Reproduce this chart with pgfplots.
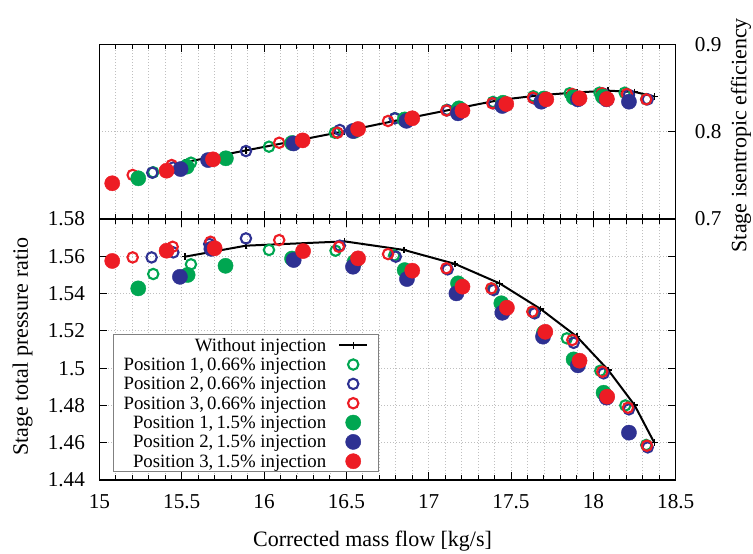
\documentclass[border=0pt]{standalone}
\usepackage{pgfplots}
\pgfplotsset{compat=1.18}
\usepackage{fontspec}
\setmainfont{Liberation Serif}
\definecolor{cG}{RGB}{0,166,81}
\definecolor{cB}{RGB}{46,49,146}
\definecolor{cR}{RGB}{237,28,36}
\pgfplotsset{
  common/.style={
    scale only axis, width=288.15pt, xmin=15, xmax=18.5,
    xtick={15,15.5,16,16.5,17,17.5,18,18.5}, minor x tick num=4,
    xmajorgrids, xminorgrids, ymajorgrids,
    major grid style={gray!50, line width=0.4pt, dash pattern=on 0.5pt off 1pt},
    minor grid style={gray!50, line width=0.4pt, dash pattern=on 0.5pt off 1pt},
    axis line style={line width=0.6pt},
    major tick length=4pt, minor tick length=2.5pt,
    every tick/.style={black, line width=0.5pt},
    tick label style={font=\fontsize{10.6}{12}\selectfont},
    label style={font=\fontsize{11}{13}\selectfont},
    /pgf/number format/assume math mode=true,
    xticklabel style={yshift=-3.5pt},
    legend image code/.code={\draw[mark repeat=2,mark phase=2,##1] plot coordinates {(0pt,0pt) (7pt,0pt) (14pt,0pt)};},
  },
  noinj/.style={black, line width=1pt, mark=+, mark size=1.7pt, mark options={line width=0.7pt}},
  openG/.style={only marks, mark=o, mark size=2.6pt, cG, mark options={line width=1.05pt}},
  openB/.style={only marks, mark=o, mark size=2.6pt, cB, mark options={line width=1.05pt}},
  openR/.style={only marks, mark=o, mark size=2.6pt, cR, mark options={line width=1.05pt}},
  fillG/.style={only marks, mark=*, mark size=3.8pt, cG, mark options={line width=0.2pt}},
  fillB/.style={only marks, mark=*, mark size=3.8pt, cB, mark options={line width=0.2pt}},
  fillR/.style={only marks, mark=*, mark size=3.8pt, cR, mark options={line width=0.2pt}},
}
\begin{document}
\begin{tikzpicture}
\useasboundingbox (-49.7pt,-36.5pt) rectangle (326.8pt,240pt);
% ---------------- top panel: efficiency ----------------
\begin{axis}[common, at={(0pt,130.5pt)}, anchor=south west, height=87.35pt,
  ymin=0.7, ymax=0.9, ytick={0.7,0.8,0.9},
  yticklabel pos=right, ytick pos=right, xticklabels={},
  yticklabel style={xshift=6.1pt},
  ylabel={Stage isentropic efficiency},
  ylabel style={at={(axis description cs:1.1225,0.48)}, anchor=base},
]
\addplot[noinj] coordinates {(15.52,0.7650) (15.89,0.7785) (16.49,0.8005) (16.85,0.8145) (17.16,0.8262) (17.43,0.8362) (17.68,0.8418) (17.90,0.8449) (18.09,0.8469) (18.25,0.8455) (18.37,0.8402)};
\addplot[openG] coordinates {(15.327,0.7535) (15.556,0.7645) (16.030,0.7828) (16.430,0.7988) (16.795,0.8155) (17.110,0.8250) (17.390,0.8340) (17.635,0.8405) (17.856,0.8439) (18.037,0.8446) (18.190,0.8446) (18.321,0.8372)};
\addplot[openB] coordinates {(15.321,0.7530) (15.449,0.7590) (15.667,0.7680) (15.890,0.7778) (16.460,0.8019) (16.794,0.8153) (17.115,0.8245) (17.394,0.8325) (17.640,0.8380) (17.880,0.8420) (18.060,0.8435) (18.216,0.8420) (18.330,0.8370)};
\addplot[openR] coordinates {(15.202,0.7504) (15.439,0.7618) (15.675,0.7685) (16.092,0.7873) (16.446,0.7988) (16.753,0.8122) (17.107,0.8242) (17.386,0.8325) (17.633,0.8389) (17.872,0.8431) (18.052,0.8439) (18.203,0.8431) (18.321,0.8370)};
\addplot[fillG] coordinates {(15.236,0.7466) (15.530,0.7599) (15.768,0.7695) (16.170,0.7870) (16.550,0.8010) (16.854,0.8140) (17.184,0.8267) (17.451,0.8331) (17.700,0.8380) (17.880,0.8393) (18.058,0.8400)};
\addplot[fillB] coordinates {(15.493,0.7572) (15.660,0.7675) (16.179,0.7865) (16.540,0.8007) (16.865,0.8124) (17.178,0.8210) (17.447,0.8294) (17.684,0.8343) (17.906,0.8370) (18.080,0.8370) (18.216,0.8343)};
\addplot[fillR] coordinates {(15.078,0.7409) (15.408,0.7553) (15.690,0.7683) (16.234,0.7900) (16.571,0.8030) (16.900,0.8153) (17.205,0.8240) (17.471,0.8317) (17.714,0.8370) (17.916,0.8382) (18.082,0.8374)};
\end{axis}
% ---------------- bottom panel: pressure ratio ----------------
\begin{axis}[common, at={(0pt,0pt)}, anchor=south west, height=130.5pt,
  ymin=1.44, ymax=1.58, ytick={1.44,1.46,1.48,1.5,1.52,1.54,1.56,1.58},
  yticklabel style={xshift=-3.7pt},
  xlabel={Corrected mass flow [kg/s]},
  xlabel style={at={(axis description cs:0.474,-0.2554)}, anchor=base},
  ylabel={Stage total pressure ratio},
  ylabel style={at={(axis description cs:-0.1239,0.511)}, anchor=base},
  legend plot pos=right, legend cell align=right,
  legend style={at={(axis description cs:0.0236,0.0295)}, anchor=south west,
    draw=gray, line width=0.6pt, fill=white,
    font=\fontsize{9.4}{10}\selectfont,
    inner xsep=5pt, inner ysep=0.4pt, column sep=6pt, row sep=0pt,
    nodes={inner xsep=0pt, inner ysep=0pt, text height=7.77pt, text depth=1.9pt}},
]
\addplot[noinj] coordinates {(15.52,1.5598) (15.89,1.5657) (16.49,1.5680) (16.85,1.5634) (17.16,1.5559) (17.43,1.5455) (17.68,1.5317) (17.90,1.5169) (18.09,1.4990) (18.25,1.4802) (18.37,1.4600)};
\addlegendentry{Without injection}
\addplot[openG] coordinates {(15.327,1.5505) (15.556,1.5557) (16.030,1.5634) (16.434,1.5630) (16.790,1.5605) (17.110,1.5533) (17.390,1.5425) (17.635,1.5300) (17.839,1.5160) (18.042,1.4986) (18.194,1.4800) (18.321,1.4588)};
\addlegendentry{Position 1,\,0.66\% injection}
\addplot[openB] coordinates {(15.317,1.5594) (15.449,1.5621) (15.667,1.5666) (15.890,1.5696) (16.460,1.5657) (16.800,1.5598) (17.115,1.5530) (17.394,1.5419) (17.643,1.5294) (17.880,1.5136) (18.062,1.4972) (18.216,1.4779) (18.330,1.4575)};
\addlegendentry{Position 2,\,0.66\% injection}
\addplot[openR] coordinates {(15.202,1.5594) (15.445,1.5651) (15.675,1.5678) (16.092,1.5687) (16.454,1.5651) (16.753,1.5612) (17.107,1.5536) (17.380,1.5428) (17.629,1.5303) (17.872,1.5151) (18.054,1.4981) (18.210,1.4788) (18.325,1.4584)};
\addlegendentry{Position 3,\,0.66\% injection}
\addplot[fillG] coordinates {(15.236,1.5428) (15.536,1.5500) (15.766,1.5549) (16.170,1.5588) (16.550,1.5570) (16.854,1.5526) (17.178,1.5455) (17.441,1.5348) (17.700,1.5190) (17.880,1.5047) (18.062,1.4868)};
\addlegendentry{Position 1,\,1.5\% injection}
\addplot[fillB] coordinates {(15.489,1.5490) (15.680,1.5640) (16.180,1.5580) (16.540,1.5544) (16.868,1.5478) (17.168,1.5401) (17.447,1.5297) (17.694,1.5169) (17.906,1.5015) (18.080,1.4842) (18.216,1.4654)};
\addlegendentry{Position 2,\,1.5\% injection}
\addplot[fillR] coordinates {(15.078,1.5575) (15.408,1.5630) (15.700,1.5643) (16.237,1.5628) (16.571,1.5589) (16.900,1.5523) (17.205,1.5437) (17.475,1.5324) (17.708,1.5195) (17.916,1.5040) (18.084,1.4847)};
\addlegendentry{Position 3,\,1.5\% injection}
\end{axis}
\end{tikzpicture}
\end{document}
